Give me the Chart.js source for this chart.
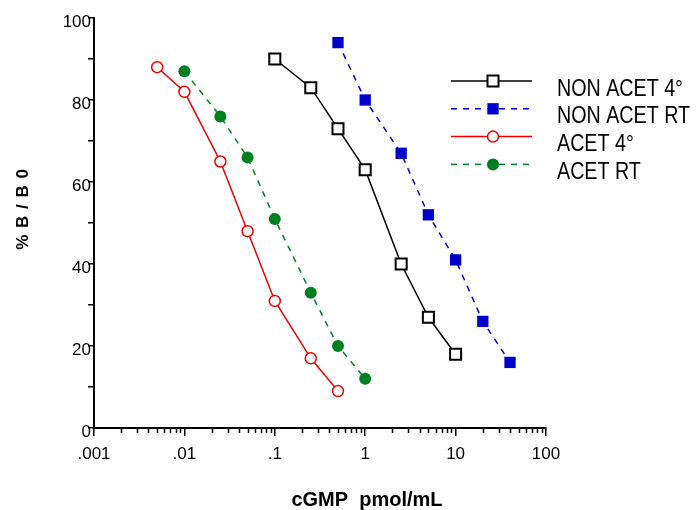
<!DOCTYPE html>
<html lang="en">
  <head>
    <meta charset="UTF-8" />
    <title>cGMP standard curves</title>
    <script src="https://cdn.jsdelivr.net/npm/chart.js"></script>
    <style>
      body { margin: 0; background: #fff; }
      canvas { display: block; }
    </style>
  </head>
  <body>
    <canvas id="curveChart" width="697" height="510"></canvas>

    <script>
      // Data (x = cGMP pmol/mL, y = %B/B0)
      const seriesNames = ["NON ACET 4°", "NON ACET RT", "ACET 4°", "ACET RT"];
      const nonAcet4X = [0.1, 0.25, 0.5, 1, 2.5, 5, 10];
      const nonAcet4Y = [90, 83, 73, 63, 40, 27, 18];
      const nonAcetRtX = [0.5, 1, 2.5, 5, 10, 20, 40];
      const nonAcetRtY = [94, 80, 67, 52, 41, 26, 16];
      const acet4X = [0.005, 0.01, 0.025, 0.05, 0.1, 0.25, 0.5];
      const acet4Y = [88, 82, 65, 48, 31, 17, 9];
      const acetRtX = [0.01, 0.025, 0.05, 0.1, 0.25, 0.5, 1];
      const acetRtY = [87, 76, 66, 51, 33, 20, 12];

      const xTicks = [0.001, 0.01, 0.1, 1, 10, 100];
      const xTickLabels = [".001", ".01", ".1", "1", "10", "100"];
      const yTickLabels = ["0", "20", "40", "60", "80", "100"];

      const sans = "'Liberation Sans', Arial, sans-serif";

      function toPoints(xs, ys) {
        return xs.map((x, i) => ({ x: x, y: ys[i] }));
      }

      // minor log ticks, axis titles and the legend box
      const decorations = {
        id: "decorations",
        afterDraw(chart) {
          const ctx = chart.ctx;
          const xs = chart.scales.x;
          const area = chart.chartArea;
          ctx.save();

          ctx.strokeStyle = "#000";
          ctx.lineWidth = 1.5;
          for (let d = -3; d < 2; d++) {
            for (let k = 2; k < 10; k++) {
              const px = Math.round(xs.getPixelForValue(k * Math.pow(10, d))) + 0.5;
              ctx.beginPath();
              ctx.moveTo(px, area.bottom);
              ctx.lineTo(px, area.bottom + 5);
              ctx.stroke();
            }
          }

          // x title
          ctx.fillStyle = "#000";
          ctx.font = "bold 20px " + sans;
          ctx.textAlign = "center";
          ctx.textBaseline = "alphabetic";
          ctx.fillText("cGMP  pmol/mL", 367, 506);

          // y title
          ctx.save();
          ctx.translate(28, 209);
          ctx.rotate(-Math.PI / 2);
          ctx.font = "bold 17px " + sans;
          ctx.letterSpacing = "1px";
          ctx.fillText("% B / B 0", 0, 0);
          ctx.restore();

          // legend
          chart.data.datasets.forEach((ds, i) => {
            const y = 81 + i * 27.8;
            ctx.save();
            ctx.strokeStyle = ds.borderColor;
            ctx.lineWidth = 1.5;
            ctx.setLineDash(ds.borderDash || []);
            ctx.beginPath();
            ctx.moveTo(451, y);
            ctx.lineTo(532, y);
            ctx.stroke();
            ctx.setLineDash([]);

            const mx = 493;
            ctx.fillStyle = ds.pointBackgroundColor;
            ctx.strokeStyle = ds.pointBorderColor;
            ctx.lineWidth = ds.pointBorderWidth;
            ctx.beginPath();
            if (ds.pointStyle === "rect") {
              const s = ds.pointRadius * Math.SQRT1_2;
              ctx.rect(mx - s, y - s, 2 * s, 2 * s);
            } else {
              ctx.arc(mx, y, ds.pointRadius, 0, Math.PI * 2);
            }
            ctx.fill();
            if (ds.pointBorderWidth) ctx.stroke();

            // condensed label text
            ctx.fillStyle = "#000";
            ctx.font = "24px " + sans;
            ctx.textAlign = "left";
            ctx.translate(557, y + 14.5);
            ctx.scale(0.82, 1);
            ctx.fillText(seriesNames[i], 0, 0);
            ctx.restore();
          });

          ctx.restore();
        },
      };

      new Chart(document.getElementById("curveChart"), {
        type: "line",
        data: {
          datasets: [
            {
              label: seriesNames[0],
              data: toPoints(nonAcet4X, nonAcet4Y),
              borderColor: "#000000",
              borderWidth: 1.5,
              pointStyle: "rect",
              pointRadius: 7.8,
              pointBackgroundColor: "#ffffff",
              pointBorderColor: "#000000",
              pointBorderWidth: 2,
            },
            {
              label: seriesNames[1],
              data: toPoints(nonAcetRtX, nonAcetRtY),
              borderColor: "#0000cc",
              borderWidth: 1.5,
              borderDash: [6, 6],
              pointStyle: "rect",
              pointRadius: 8,
              pointBackgroundColor: "#0000cc",
              pointBorderColor: "#0000cc",
              pointBorderWidth: 0,
            },
            {
              label: seriesNames[2],
              data: toPoints(acet4X, acet4Y),
              borderColor: "#ee0000",
              borderWidth: 1.5,
              pointStyle: "circle",
              pointRadius: 5.5,
              pointBackgroundColor: "#ffffff",
              pointBorderColor: "#ee0000",
              pointBorderWidth: 1.5,
            },
            {
              label: seriesNames[3],
              data: toPoints(acetRtX, acetRtY),
              borderColor: "#008020",
              borderWidth: 1.5,
              borderDash: [6, 6],
              pointStyle: "circle",
              pointRadius: 6,
              pointBackgroundColor: "#008020",
              pointBorderColor: "#008020",
              pointBorderWidth: 0,
            },
          ],
        },
        options: {
          responsive: false,
          animation: false,
          devicePixelRatio: 1,
          clip: false,
          layout: { padding: { left: 0, top: 18, right: 151, bottom: 0 } },
          elements: { line: { tension: 0 } },
          plugins: {
            legend: { display: false },
            tooltip: { enabled: false },
          },
          scales: {
            x: {
              type: "logarithmic",
              min: 0.001,
              max: 100,
              afterBuildTicks: (scale) => {
                scale.ticks = xTicks.map((v) => ({ value: v }));
              },
              afterFit: (scale) => {
                scale.height = 82;
              },
              ticks: {
                autoSkip: false,
                maxRotation: 0,
                padding: 8,
                color: "#000",
                font: { family: sans, size: 17 },
                callback: (v, i) => xTickLabels[i],
              },
              grid: {
                drawOnChartArea: false,
                tickLength: 8,
                color: "#000",
                lineWidth: 1.5,
              },
              border: { color: "#000", width: 2 },
            },
            y: {
              type: "linear",
              min: 0,
              max: 100,
              afterFit: (scale) => {
                scale.width = 94;
              },
              ticks: {
                stepSize: 10,
                padding: -3,
                labelOffset: 4,
                color: "#000",
                font: { family: sans, size: 17 },
                callback: (v) => (v % 20 === 0 ? yTickLabels[v / 20] : ""),
              },
              grid: {
                drawOnChartArea: false,
                tickLength: 6,
                color: "#000",
                lineWidth: 1.5,
              },
              border: { color: "#000", width: 2 },
            },
          },
        },
        plugins: [decorations],
      });
    </script>
  </body>
</html>
